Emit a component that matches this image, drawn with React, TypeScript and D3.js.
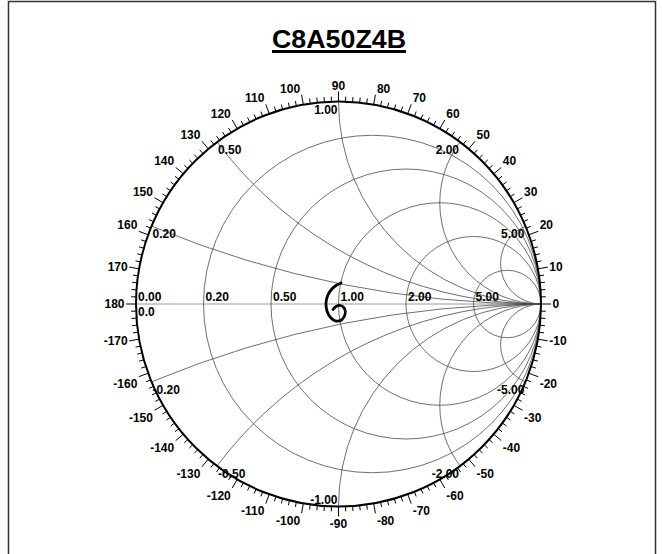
import React from "react";
import * as d3 from "d3";

const chartTitle = "C8A50Z4B";

// constant-resistance circles (normalized)
const resistanceValues = [0, 0.2, 0.5, 1, 2, 5];
const resistanceLabels = ["0.00", "0.20", "0.50", "1.00", "2.00", "5.00"];

// constant-reactance arcs (normalized)
const reactanceValues = [0.2, 0.5, 1, 2, 5, -0.2, -0.5, -1, -2, -5];
const reactanceLabels = ["0.20", "0.50", "1.00", "2.00", "5.00", "-0.20", "-0.50", "-1.00", "-2.00", "-5.00"];

// angle scale labels (degrees of reflection coefficient)
const angleLabels = [0, 10, 20, 30, 40, 50, 60, 70, 80, 90, 100, 110, 120, 130, 140, 150, 160, 170, 180,
  -170, -160, -150, -140, -130, -120, -110, -100, -90, -80, -70, -60, -50, -40, -30, -20, -10];

// measured trace, reflection coefficient (real, imaginary)
const traceRe = [0.0123, -0.0123, -0.0370, -0.0543, -0.0617, -0.0568, -0.0395, -0.0123, 0.0148, 0.0321, 0.0296, 0.0099, -0.0123, -0.0272];
const traceIm = [0.1037, 0.0914, 0.0691, 0.0395, 0.0049, -0.0346, -0.0667, -0.0840, -0.0790, -0.0519, -0.0222, -0.0074, -0.0123, -0.0272];

export default function App() {
  const W = 662, H = 554;
  const cx = 338.5, cy = 304, R = 202.5;
  const sx = d3.scaleLinear().domain([-1, 1]).range([cx - R, cx + R]);
  const sy = d3.scaleLinear().domain([-1, 1]).range([cy + R, cy - R]);
  const len = (v: number) => v * R;
  const font = "'Liberation Sans', Arial, sans-serif";
  const gridColor = "#4a4a4a";
  const majorLen = 10, minorLen = 5;

  const ticks = d3.range(0, 360, 2);

  const traceData = traceRe.map((re, i) => [re, traceIm[i]] as [number, number]);
  const line = d3.line<[number, number]>()
    .x(d => sx(d[0]))
    .y(d => sy(d[1]))
    .curve(d3.curveCatmullRom.alpha(0.5));

  return (
    <svg width={W} height={H} style={{ position: "absolute", left: 0, top: 0, background: "#fff" }}>
      <rect x={0} y={0} width={W} height={H} fill="#fff" />
      {/* frame */}
      <line x1={8.5} y1={1} x2={8.5} y2={H} stroke="#333" strokeWidth={1.5} />
      <line x1={655.5} y1={1} x2={655.5} y2={H} stroke="#333" strokeWidth={1.5} />
      <line x1={8.5} y1={1.5} x2={655.5} y2={1.5} stroke="#333" strokeWidth={1.5} />

      {/* title */}
      <text x={339} y={48} textAnchor="middle" fontFamily={font} fontWeight="bold" fontSize={26}
        textLength={134} lengthAdjust="spacingAndGlyphs">{chartTitle}</text>
      <rect x={272} y={50} width={134} height={3} fill="#000" />

      <defs>
        <clipPath id="unit">
          <circle cx={cx} cy={cy} r={R} />
        </clipPath>
      </defs>

      {/* real axis */}
      <line x1={sx(-1)} y1={cy} x2={sx(1)} y2={cy} stroke="#9a9a9a" strokeWidth={1} />

      <g clipPath="url(#unit)" fill="none" stroke={gridColor} strokeWidth={0.8}>
        {resistanceValues.filter(r => r > 0).map(r => (
          <circle key={"r" + r} cx={sx(r / (r + 1))} cy={sy(0)} r={len(1 / (r + 1))} />
        ))}
        {reactanceValues.map(x => (
          <circle key={"x" + x} cx={sx(1)} cy={sy(1 / x)} r={len(1 / Math.abs(x))} />
        ))}
      </g>

      {/* outer circle */}
      <circle cx={cx} cy={cy} r={R} fill="none" stroke="#000" strokeWidth={2} />

      {/* angle ticks */}
      <g stroke="#000" strokeWidth={1}>
        {ticks.map(a => {
          const t = (a * Math.PI) / 180;
          const L = a % 10 === 0 ? majorLen : minorLen;
          return (
            <line key={"t" + a}
              x1={cx + R * Math.cos(t)} y1={cy - R * Math.sin(t)}
              x2={cx + (R + L) * Math.cos(t)} y2={cy - (R + L) * Math.sin(t)} />
          );
        })}
      </g>

      {/* angle labels anchored at the end of each major tick */}
      <g fontFamily={font} fontWeight="bold" fontSize={12} fill="#000">
        {angleLabels.map(a => {
          const t = (a * Math.PI) / 180;
          const c = Math.cos(t), s = Math.sin(t);
          const tx = cx + (R + majorLen) * c;
          const ty = cy - (R + majorLen) * s;
          const anchor = Math.abs(c) < 0.05 ? "middle" : c > 0 ? "start" : "end";
          const x = anchor === "middle" ? tx : c > 0 ? tx + 1.5 : tx - 1.5;
          let y: number;
          if (Math.abs(s) < 0.2) y = ty + 4.3;
          else if (s > 0) y = ty - 2;
          else y = ty + 11.6;
          return (
            <text key={"a" + a} x={x} y={y} textAnchor={anchor}>{String(a)}</text>
          );
        })}
      </g>

      {/* resistance labels */}
      <g fontFamily={font} fontWeight="bold" fontSize={12} fill="#000">
        {resistanceValues.map((r, i) => (
          <text key={"rl" + r} x={sx((r - 1) / (r + 1)) + 2} y={cy - 3}>{resistanceLabels[i]}</text>
        ))}
        <text x={sx(-1) + 2} y={cy + 12}>0.0</text>
      </g>

      {/* reactance labels */}
      <g fontFamily={font} fontWeight="bold" fontSize={12} fill="#000">
        {reactanceValues.map((x, i) => {
          const gr = (x * x - 1) / (x * x + 1);
          const gi = (2 * x) / (x * x + 1);
          const px = sx(gr), py = sy(gi);
          const small = Math.abs(x) <= 0.5;
          return (
            <text key={"xl" + x} x={small ? px + 1 : px - 1} y={Math.min(py + 12, cy + R - 3)}
              textAnchor={small ? "start" : "end"}>{reactanceLabels[i]}</text>
          );
        })}
      </g>

      {/* trace */}
      <path d={line(traceData) || ""} fill="none" stroke="#000" strokeWidth={2.8}
        strokeLinecap="round" strokeLinejoin="round" />
    </svg>
  );
}
